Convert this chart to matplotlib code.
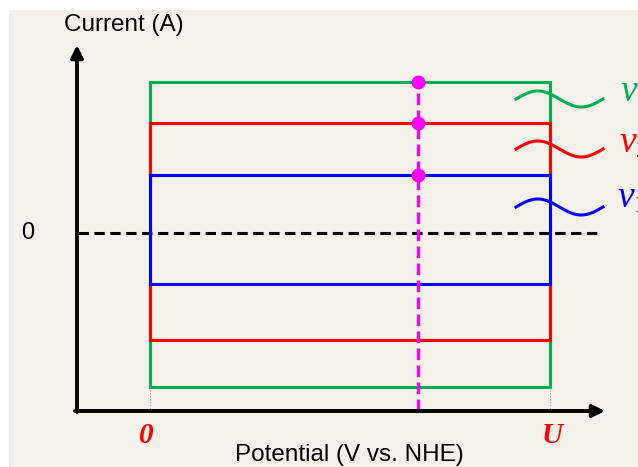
import numpy as np
import matplotlib
matplotlib.use("Agg")
import matplotlib.pyplot as plt
from matplotlib.patches import Rectangle

plt.rcParams['mathtext.fontset'] = 'custom'
plt.rcParams['mathtext.it'] = 'Liberation Serif:italic'
plt.rcParams['mathtext.rm'] = 'Liberation Serif'

# ---- data (schematic cyclic voltammograms at three scan rates) ----
scan_labels = [r'$v_1$', r'$v_2$', r'$v_3$']
anodic_current = [58, 110, 151]      # arbitrary units, upper plateau
cathodic_current = [-51, -107, -154]  # lower plateau
colors = ['#0000ff', '#ff0000', '#00b050']
E_start, E_end = 0.0, 1.0             # potential window 0 .. U
E_probe = 0.67                        # potential of magenta marker line
x_tick_labels = ['0', 'U']

W, H = 638, 467
fig = plt.figure(figsize=(W / 100, H / 100), dpi=100)
fig.patch.set_facecolor('white')
bg = Rectangle((9 / W, 0), 1 - 9 / W, (H - 10) / H,
               transform=fig.transFigure, facecolor='#f4f1eb',
               edgecolor='none', zorder=-10)
fig.patches.append(bg)
ax = fig.add_axes([0, 0, 1, 1])
ax.set_zorder(5)
ax.set_facecolor('none')
ax.axis('off')

# pixel helpers for layout
def X(px):
    return (px - 150) / 400.0

def Y(py):
    return 233 - py

ax.set_xlim(X(0), X(W))
ax.set_ylim(Y(H), Y(0))

# axes arrows
ax.annotate('', xy=(X(77), Y(45)), xytext=(X(77), Y(412)),
            arrowprops=dict(arrowstyle='-|>', lw=2.8, color='black',
                            mutation_scale=18, shrinkA=0, shrinkB=0))
ax.annotate('', xy=(X(605), Y(411)), xytext=(X(75), Y(411)),
            arrowprops=dict(arrowstyle='-|>', lw=2.8, color='black',
                            mutation_scale=18, shrinkA=0, shrinkB=0))

# zero line
ax.plot([X(78), X(601)], [0, 0], color='black', lw=2.2, dashes=(3.4, 1.8))

# rectangles (largest first)
for hi, lo, c in sorted(zip(anodic_current, cathodic_current, colors),
                        key=lambda t: -t[0]):
    ax.plot([E_start, E_end, E_end, E_start, E_start],
            [lo, lo, hi, hi, lo], color=c, lw=2.2, solid_joinstyle='miter')

# grey dotted drop lines
lowest = min(cathodic_current)
for e in (E_start, E_end):
    ax.plot([e, e], [lowest, Y(411)], color='#999999', lw=0.8, ls=':')

# magenta probe line with dots
ax.plot([E_probe, E_probe], [Y(76), Y(410)], color='#ff00ff', lw=2.4,
        dashes=(3.5, 1.6))
ax.plot([E_probe] * 3, anodic_current, 'o', color='#ff00ff', ms=9)

# wavy connectors and labels
wave_centers = [207, 149, 99]
label_x = [617, 619, 620]
label_base = [208, 153, 102]
t = np.linspace(0, 1, 120)
for lab, c, yc, lx, lb in zip(scan_labels, colors, wave_centers, label_x, label_base):
    ax.plot(X(516 + 87 * t), Y(yc) + 8 * np.sin(2 * np.pi * t), color=c, lw=2.2)
    ax.text(X(lx), Y(lb), lab, color=c, fontsize=27, ha='left', va='baseline')

# text labels
sans = 'Liberation Sans'
ax.text(X(123.5), Y(25), 'Current (A)', fontsize=17.5, family=sans,
        ha='center', va='center')
ax.text(X(349), Y(455), 'Potential (V vs. NHE)', fontsize=17.5, family=sans,
        ha='center', va='center')
ax.text(X(27.5), 0, '0', fontsize=17, family=sans, ha='center', va='center')
for e, lab, px in zip((E_start, E_end), x_tick_labels, (146, 552)):
    ax.text(X(px), Y(443), lab, color='#ff0000', fontsize=21,
            family='Liberation Serif', style='italic', weight='bold',
            ha='center', va='baseline')

fig.savefig('out.png', dpi=100)
